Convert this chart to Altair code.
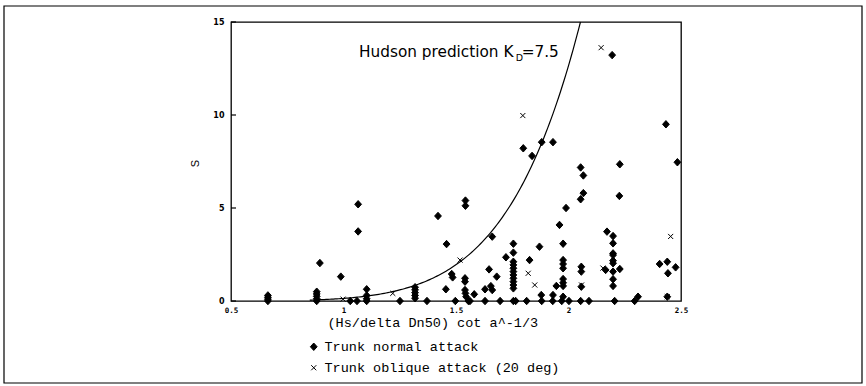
import altair as alt
import numpy as np
import pandas as pd

# Damage level S against (Hs/delta Dn50) cot(a)^-1/3 for trunk sections
normal_x = [
    0.664, 0.664, 0.664, 0.664,
    0.881, 0.881, 0.881, 0.881, 0.881,
    0.895, 0.988, 1.065, 1.065, 1.03, 1.06,
    1.103, 1.103, 1.103, 1.103,
    1.251,
    1.318, 1.318, 1.318, 1.318, 1.318,
    1.371, 1.42, 1.458, 1.455, 1.481, 1.485, 1.497,
    1.542, 1.542,
    1.54, 1.54, 1.54, 1.542, 1.545, 1.555, 1.562, 1.581,
    1.629, 1.629, 1.647, 1.661, 1.661, 1.655, 1.681, 1.696, 1.722,
    1.755, 1.755, 1.755, 1.755, 1.755, 1.755, 1.755, 1.755, 1.755, 1.755, 1.755, 1.755, 1.765,
    1.799, 1.838, 1.881, 1.931, 1.814, 1.827,
    1.871, 1.879, 1.881, 1.931, 1.93, 1.946, 1.960, 1.989,
    1.976, 1.976, 1.976, 1.976, 1.976, 1.976, 1.976, 1.976, 1.97, 2.002,
    2.054, 2.066, 2.066, 2.054,
    2.057, 2.057, 2.057, 2.054, 2.091,
    2.171,
    2.198, 2.198, 2.198, 2.198, 2.198, 2.198, 2.198, 2.198, 2.198,
    2.165, 2.205, 2.228, 2.228, 2.226, 2.194,
    2.294, 2.309,
    2.405, 2.439, 2.442, 2.476, 2.439,
    2.433, 2.484,
]
normal_s = [
    0.0, 0.1, 0.2, 0.3,
    0.0, 0.12, 0.25, 0.38, 0.5,
    2.04, 1.31, 5.2, 3.74, 0.0, 0.0,
    0.0, 0.12, 0.3, 0.63,
    0.0,
    0.15, 0.3, 0.45, 0.6, 0.74,
    0.0, 4.57, 3.06, 0.63, 1.45, 1.27, 0.0,
    5.4, 5.12,
    1.22, 1.04, 0.59, 0.41, 0.23, 0.0, 0.0, 0.36,
    0.63, 0.0, 1.7, 3.46, 0.59, 0.8, 1.31, 0.0, 2.35,
    3.08, 2.6, 2.11, 1.94, 1.76, 1.58, 1.4, 1.22, 1.04, 0.86, 0.68, 0.0, 0.0,
    8.21, 7.8, 8.54, 8.54, 0.0, 2.2,
    2.92, 0.32, 0.0, 0.32, 0.0, 0.81, 4.09, 5.0,
    3.08, 2.2, 1.99, 1.76, 1.18, 0.98, 0.81, 0.23, 0.0, 0.0,
    7.18, 6.75, 5.8, 5.47,
    1.84, 1.58, 0.77, 0.0, 0.0,
    3.73,
    3.49, 3.1, 2.56, 2.47, 2.17, 2.03, 1.58, 1.17, 0.81,
    1.67, 0.0, 1.72, 7.35, 5.65, 13.22,
    0.0, 0.23,
    1.99, 2.11, 1.49, 1.81, 0.23,
    9.5, 7.46,
]
oblique_x = [0.998, 1.219, 1.518, 1.797, 1.821, 1.85, 2.058, 2.153, 2.145, 2.454, 2.439]
oblique_s = [0.1, 0.41, 2.2, 9.97, 1.49, 0.86, 0.86, 1.77, 13.62, 3.47, 0.23]

series_names = ["Trunk normal attack", "Trunk oblique attack (20 deg)"]
x_ticks = [0.5, 1, 1.5, 2, 2.5]
y_ticks = [0, 5, 10, 15]

# Hudson prediction for KD = 7.5: damage grows as a power of the stability number,
# passing S_ref at x_ref = KD^(1/3)
KD = 7.5
x_ref = KD ** (1.0 / 3.0)
S_ref = 11.0
power = 6.5
x_end = x_ref * (15.0 / S_ref) ** (1.0 / power)
hudson_x = np.linspace(0.85, x_end, 150)
hudson_s = S_ref * (hudson_x / x_ref) ** power

points = pd.DataFrame({
    "x": normal_x + oblique_x,
    "s": normal_s + oblique_s,
    "series": [series_names[0]] * len(normal_x) + [series_names[1]] * len(oblique_x),
})
curve = pd.DataFrame({"x": hudson_x, "s": hudson_s})
ticks = pd.DataFrame({"s": y_ticks})

mono = "Liberation Mono"
sans = "DejaVu Sans"

x_scale = alt.Scale(domain=[0.5, 2.5], nice=False, zero=False)
y_scale = alt.Scale(domain=[0, 15], nice=False, zero=False)

x_axis = alt.Axis(
    values=x_ticks, format="~g", grid=False, ticks=False, domain=False,
    labelFont="DejaVu Sans Mono", labelFontSize=7.5, labelFontWeight="bold",
    labelFlush=False, labelPadding=5, labelColor="black",
    title="(Hs/delta Dn50) cot a^-1/3", titleFont=mono, titleFontSize=13.5,
    titleFontWeight="normal", titleColor="black", titleAlign="left",
    titleBaseline="middle", titleX=96, titleY=21,
)
y_axis = alt.Axis(
    values=y_ticks, format="d", grid=False, ticks=False, domain=False,
    labelFont="DejaVu Sans", labelFontSize=8, labelFontWeight="bold",
    labelPadding=7, labelColor="black",
    title="S", titleFont="Liberation Sans", titleFontSize=11, titleFontWeight="normal",
    titleColor="black", titleAlign="center", titleBaseline="middle",
    titleX=-36, titleY=141,
)

X = alt.X("x:Q", scale=x_scale, axis=x_axis)
Y = alt.Y("s:Q", scale=y_scale, axis=y_axis)

diamond = "M0,-1.1L1,0L0,1.1L-1,0Z"
cross = "M-0.75,-0.75L0.75,0.75M-0.75,0.75L0.75,-0.75"

key = alt.Legend(
    title=None, orient="none", legendX=76, legendY=318, direction="vertical",
    labelFont=mono, labelFontSize=13.5, labelColor="black", labelLimit=400,
    symbolSize=46, symbolStrokeWidth=1, labelOffset=4, rowPadding=6, padding=0,
)

frame = alt.Chart(alt.Data(values=[{}])).mark_rect(
    fill="white", fillOpacity=0, stroke="black", strokeWidth=1.2
).encode(x=alt.value(-227), x2=alt.value(631), y=alt.value(-16), y2=alt.value(361))

hudson = alt.Chart(curve).mark_line(color="black", strokeWidth=1.2).encode(x=X, y=Y)

tick_marks = alt.Chart(ticks).mark_rule(color="black", strokeWidth=1.2).encode(
    y=Y, x=alt.value(0), x2=alt.value(5)
)

scatter = alt.Chart(points).mark_point(strokeWidth=1, opacity=1, size=46).encode(
    x=X, y=Y,
    shape=alt.Shape("series:N", scale=alt.Scale(domain=series_names, range=[diamond, cross]), legend=key),
    fill=alt.Fill("series:N", scale=alt.Scale(domain=series_names, range=["black", "black"]), legend=key),
    stroke=alt.Stroke("series:N", scale=alt.Scale(domain=series_names, range=["black", "black"]), legend=key),
)

main_label = pd.DataFrame({
    "x": [1.069, 1.792],
    "s": [13.13, 13.13],
    "label": ["Hudson prediction K", "=7.5"],
})
sub_label = pd.DataFrame({"x": [1.766], "s": [12.9], "label": ["D"]})

title_text = alt.Chart(main_label).mark_text(
    font=sans, fontSize=15.3, align="left", baseline="alphabetic", color="black"
).encode(x=X, y=Y, text="label:N")
sub_text = alt.Chart(sub_label).mark_text(
    font=sans, fontSize=9.5, align="left", baseline="alphabetic", color="black"
).encode(x=X, y=Y, text="label:N")

chart = alt.layer(frame, hudson, tick_marks, scatter, title_text, sub_text).properties(
    width=450, height=279,
    padding={"left": 231, "top": 22, "right": 185, "bottom": 85},
    autosize=alt.AutoSizeParams(type="none"),
    background="white",
).configure_view(stroke="black", strokeWidth=1.3)

chart.save("out.html", embed_options={"renderer": "svg", "actions": False})
